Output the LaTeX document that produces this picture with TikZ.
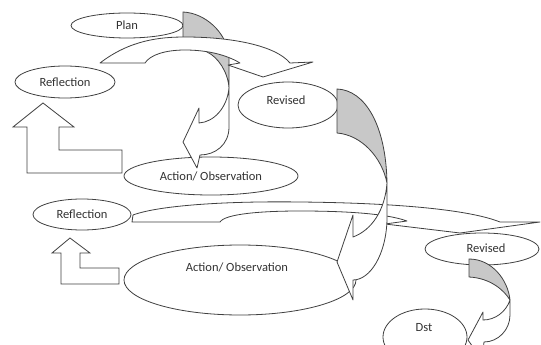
\documentclass[tikz,border=0pt]{standalone}
\usepackage{fontspec}
\setmainfont{Carlito}
\usepackage{tikz}
\usetikzlibrary{shapes.geometric}

\definecolor{linegray}{RGB}{64,64,64}
\definecolor{backgray}{RGB}{200,200,200}

\begin{document}
\begin{tikzpicture}[
  x=1pt, y=-1pt,
  oval/.style={draw=linegray, fill=white, ellipse, line width=0.8pt, inner sep=0pt, font=\fontsize{12.5}{14}\selectfont, text=black!80},
  lbl/.style={font=\fontsize{12.5}{14}\selectfont, text=black!80},
  frontface/.style={draw=linegray, fill=white, line width=0.8pt, line join=round},
  backface/.style={draw=linegray, fill=backgray, line width=0.8pt, line join=round},
  blockarrow/.style={draw=linegray, fill=white, line width=0.8pt}
]
\useasboundingbox (0,0) rectangle (541,345);

% === First cycle ===
\node[oval, minimum width=112pt, minimum height=25pt] (plan) at (127,25.5) {Plan};
\node[oval, minimum width=100pt, minimum height=32pt] (refl1) at (65,82) {Reflection};
\node[oval, minimum width=174pt, minimum height=38pt] (aobs1) at (211,176) {Action/ Observation};
\node[oval, minimum width=100pt, minimum height=46pt] (rev1) at (288,105) {};
\node[lbl] at (286,100) {Revised};

% bent arrow up to Reflection
\draw[blockarrow] (27,173) -- (27,127) -- (13,127) -- (43,103) -- (74,127) -- (59,127)
  -- (59,150) -- (122,150) -- (122,173) -- cycle;

% curved arrow down from Plan
\draw[backface] (183,12) .. controls (205,13) and (226,32) .. (229,55) -- (229,88)
  .. controls (228,72) and (218,57) .. (207,52) .. controls (198,46) and (190,40) .. (183,38) -- cycle;

% curved band over the top
\draw[frontface] (100,63) .. controls (130,40) and (160,37) .. (185,37)
  .. controls (230,37) and (275,45) .. (290,63) -- (313,62) -- (263,77) -- (228,65) -- (240,63)
  .. controls (225,54) and (205,50) .. (185,50) .. controls (165,50) and (150,55) .. (145,63) -- cycle;

\draw[frontface] (229,88) -- (229,127) .. controls (229,145) and (215,155) .. (200,155)
  -- (197,168) -- (183,142) -- (199,108) -- (199,123) .. controls (214,122) and (227,108) .. (229,88) -- cycle;

% curved arrow down from Revised
\draw[backface] (337,89) .. controls (365,90) and (386,125) .. (387,183)
  .. controls (382,158) and (362,135) .. (337,133) -- cycle;

% === Second cycle ===
\node[oval, minimum width=98pt, minimum height=31pt] (refl2) at (82,214.5) {Reflection};
\node[oval, minimum width=232pt, minimum height=70pt] (aobs2) at (240,280) {};
\node[lbl] at (237,267) {Action/ Observation};

% long flat band from Reflection
\draw[frontface] (132,222) -- (133,215) .. controls (160,205) and (230,201) .. (300,202)
  .. controls (400,203) and (470,210) .. (500,222) -- (540,222) -- (460,233) -- (385,224) -- (407,221)
  .. controls (385,213) and (340,211) .. (300,211) .. controls (260,211) and (225,214) .. (220,222) -- cycle;

% bent arrow up to Reflection
\draw[blockarrow] (61,284) -- (61,253) -- (52,253) -- (70,238) -- (90,253) -- (80,253)
  -- (80,268) -- (119,268) -- (119,284) -- cycle;

\draw[frontface] (387,183) -- (387,220) .. controls (386,255) and (370,280) .. (353,280)
  -- (353,300) -- (337,262) -- (353,215) -- (353,237) .. controls (372,230) and (385,210) .. (387,183) -- cycle;

% === Revised to Dst ===
\node[oval, minimum width=114pt, minimum height=32pt] (rev2) at (482,249) {};
\node[lbl] at (486,248) {Revised};
\node[oval, minimum width=84pt, minimum height=56pt] (dst) at (425,337) {};
\node[lbl] at (424,328) {Dst};

\draw[backface] (469,259) .. controls (492,259) and (508,280) .. (510,300)
  .. controls (504,290) and (490,278) .. (469,277) -- cycle;
\draw[frontface] (510,300) -- (510,315) .. controls (510,330) and (498,342) .. (484,342)
  -- (482,360) -- (468,340) -- (483,312) -- (483,320) .. controls (495,320) and (506,312) .. (510,300) -- cycle;

\end{tikzpicture}
\end{document}
